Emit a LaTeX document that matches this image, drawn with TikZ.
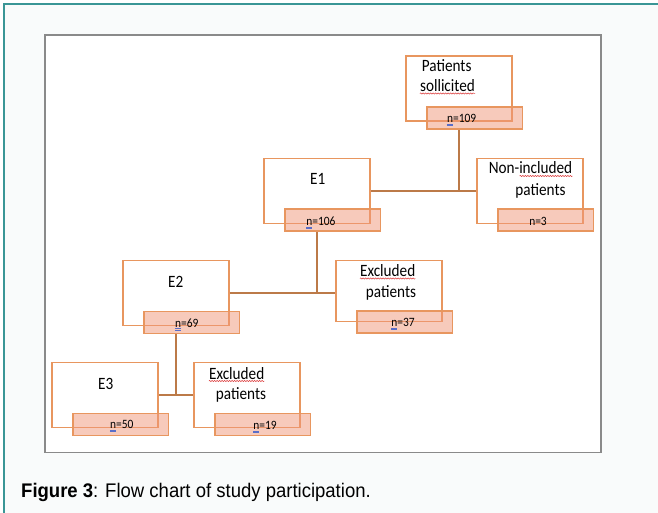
\documentclass[tikz,border=0pt]{standalone}
\usepackage{fontspec}
\newfontfamily\boxfont[FakeStretch=0.88]{Carlito}
\newfontfamily\numfont[FakeStretch=0.9]{Carlito}
\newfontfamily\capfont[FakeStretch=0.94]{Liberation Sans}
\usetikzlibrary{decorations.pathmorphing}
\definecolor{frameteal}{RGB}{58,150,150}
\definecolor{bgpale}{RGB}{249,251,251}
\definecolor{innergray}{RGB}{138,138,138}
\definecolor{boxorange}{RGB}{232,150,95}
\definecolor{pinkfill}{RGB}{240,150,120}
\definecolor{linkbrown}{RGB}{188,122,72}
\definecolor{spellred}{RGB}{220,60,60}
\definecolor{gramblue}{RGB}{90,110,200}
\begin{document}
\begin{tikzpicture}[x=1pt,y=-1pt,
  wbox/.style={draw=boxorange, line width=1.7pt, fill=white, minimum width=106pt, minimum height=65pt, inner sep=0pt},
  pbox/.style={draw=boxorange, line width=1.7pt, fill=pinkfill, fill opacity=0.5, minimum width=95.5pt, minimum height=22pt, inner sep=0pt},
  txt/.style={font=\boxfont\fontsize{17.3}{20}\selectfont, inner sep=0pt, text height=12pt, text depth=4pt},
  ntxt/.style={font=\numfont\fontsize{12.7}{14}\selectfont, inner sep=0pt, text height=9pt, text depth=2pt},
  link/.style={draw=linkbrown, line width=1.8pt},
  squig/.style={draw=spellred, line width=0.5pt, decorate, decoration={snake, segment length=2.5pt, amplitude=0.6pt}},
  gram/.style={draw=gramblue, line width=0.5pt}]
\useasboundingbox (0,0) rectangle (658,513);
% page frame
\fill[white] (0,0) rectangle (658,513);
\filldraw[fill=bgpale, draw=frameteal, line width=1.5pt] (4,4) rectangle (700,560);
% inner figure frame
\filldraw[fill=white, draw=innergray, line width=1.2pt] (45,35) rectangle (601,452.5);

% white boxes
\node[wbox] (pw) at (459,88.5) {};
\node[wbox] (niw) at (530,191) {};
\node[wbox] (e1w) at (317,191) {};
\node[wbox, minimum height=61pt] (x1w) at (389,291) {};
\node[wbox] (e2w) at (176,293) {};
\node[wbox] (e3w) at (105,395) {};
\node[wbox] (x2w) at (247,395) {};

% pink count boxes
\node[pbox] (pk) at (474.75,118) {};
\node[pbox] (nik) at (545.75,220) {};
\node[pbox] (e1k) at (332.75,220) {};
\node[pbox] (x1k) at (404.75,322) {};
\node[pbox] (e2k) at (191.75,322.5) {};
\node[pbox] (e3k) at (120.75,424.5) {};
\node[pbox] (x2k) at (262.75,424.5) {};

% connectors
\draw[link] (pw.center |- pk.south) -- (pw.center |- e1w.east);
\draw[link] (e1w.east) -- (niw.west);
\draw[link] (e1w.center |- e1k.south) -- (e1w.center |- e2w.east);
\draw[link] (e2w.east) -- (e2w.east -| x1w.west);
\draw[link] (e2w.center |- e2k.south) -- (e2w.center |- e3w.east);
\draw[link] (e3w.east) -- (e3w.east -| x2w.west);

% box texts
\node[txt] (t1a) at (446.7,68) {Patients};
\node[txt] (t1b) at (447.5,87.5) {sollicited};
\node[txt] (t2a) at (530.5,170) {Non-included};
\node[txt] (t2b) at (540.5,191) {patients};
\node[txt] (t3) at (317.7,181) {E1};
\node[txt] (t4a) at (387.7,272.5) {Excluded};
\node[txt] (t4b) at (391,293.5) {patients};
\node[txt] (t5) at (175.7,283.5) {E2};
\node[txt] (t6) at (105.7,385) {E3};
\node[txt] (t7a) at (236.7,375) {Excluded};
\node[txt] (t7b) at (241,395) {patients};

% count texts
\node[ntxt] (n1) at (461.7,119) {n=109};
\node[ntxt] (n2) at (538,221.5) {n=3};
\node[ntxt] (n3) at (321,222) {n=106};
\node[ntxt] (n4) at (403,323) {n=37};
\node[ntxt] (n5) at (186.7,323.5) {n=69};
\node[ntxt] (n6) at (121.7,425) {n=50};
\node[ntxt] (n7) at (265,426) {n=19};

% spell-check marks
\draw[squig] ([yshift=-2pt]t1b.base west) -- ([yshift=-2pt]t1b.base east);
\draw[squig] ([xshift=31pt,yshift=-2pt]t2a.base west) -- ([yshift=-2pt]t2a.base east);
\draw[squig] ([yshift=-2pt]t4a.base west) -- ([yshift=-2pt]t4a.base east);
\draw[squig] ([yshift=-2pt]t7a.base west) -- ([yshift=-2pt]t7a.base east);
\foreach \n in {n1,n3,n4,n5,n6,n7}{
  \draw[gram] ([yshift=-1.5pt]\n.base west) -- ++(6pt,0);
  \draw[gram] ([yshift=-3pt]\n.base west) -- ++(6pt,0);
}

% caption
\node[anchor=base west, inner sep=0pt, font=\capfont\fontsize{19.7}{23}\selectfont] (cap) at (21,497.7) {\textbf{Figure 3}: Flow chart of study participation.};
\end{tikzpicture}
\end{document}
